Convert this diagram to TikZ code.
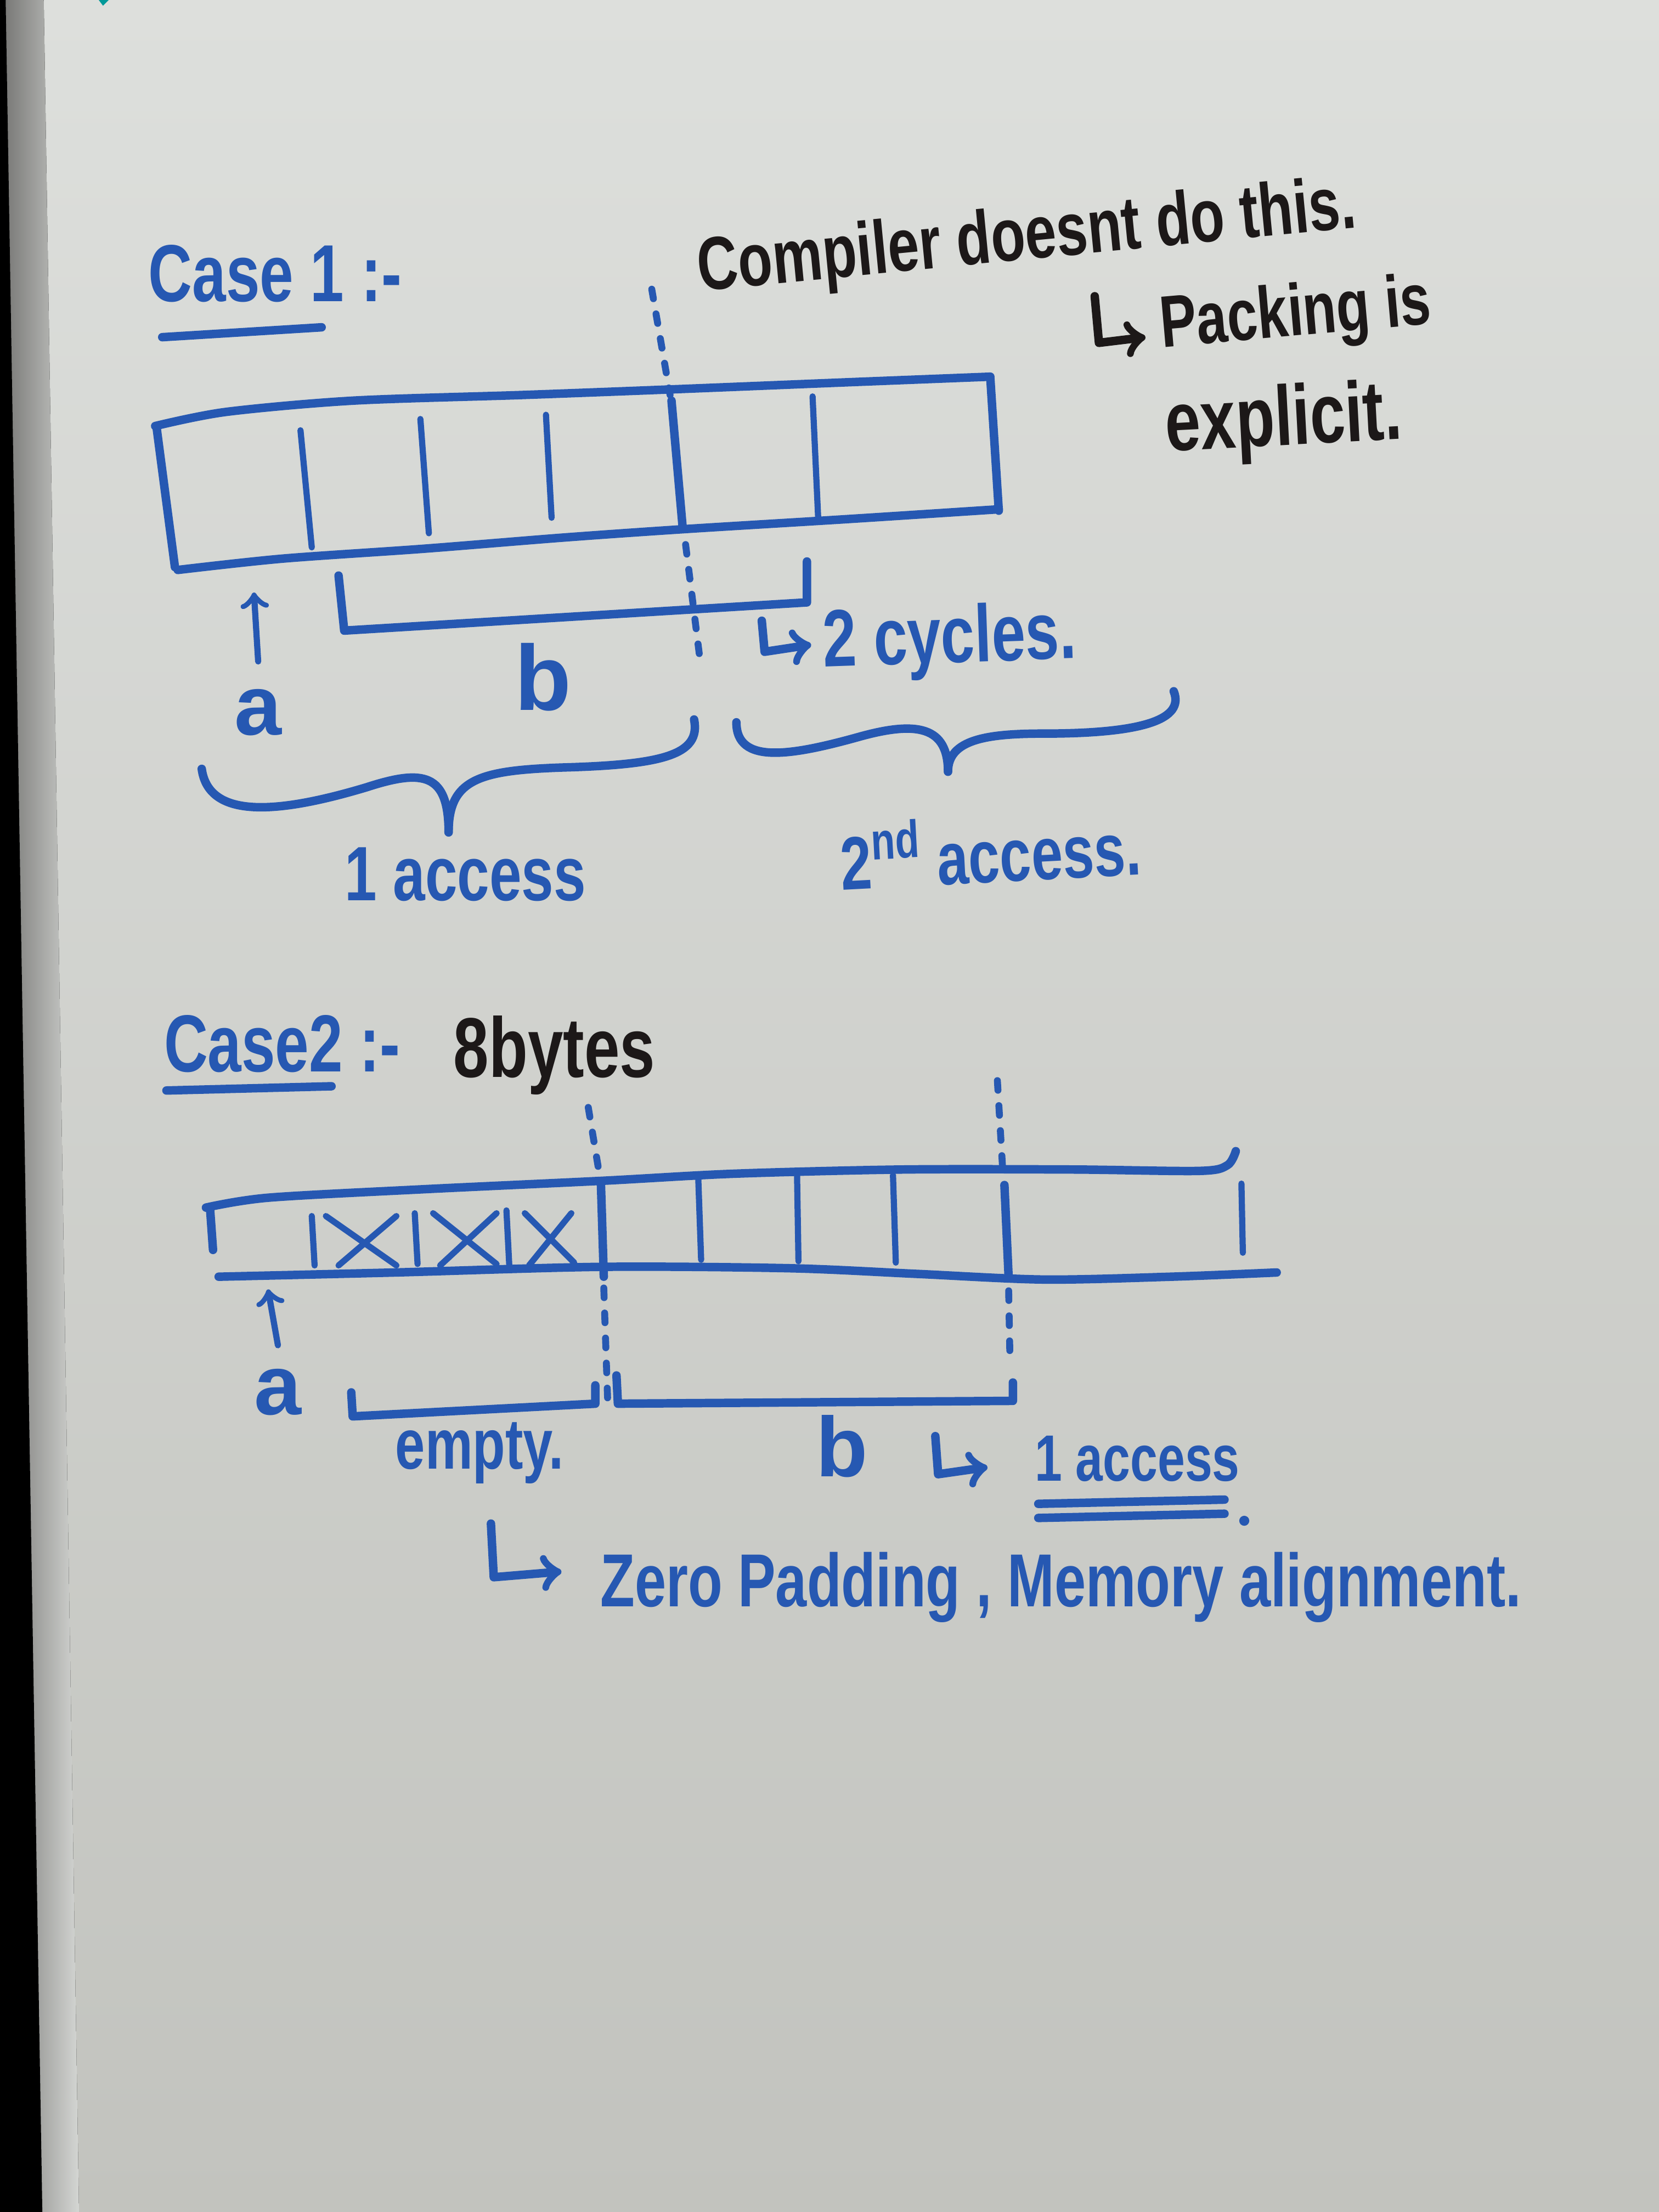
\documentclass[tikz,border=0pt]{standalone}
\usepackage{fontspec}
\setmainfont{Liberation Sans}

\definecolor{penblue}{RGB}{38,88,178}
\definecolor{penblack}{RGB}{28,24,24}
\definecolor{board}{RGB}{221,223,220}
\definecolor{boardlow}{RGB}{194,195,190}
\definecolor{frame}{RGB}{120,120,118}

% handwriting is narrow: squeeze the text sideways
\newcommand{\pen}[1]{\scalebox{0.75}[1]{#1}}

\tikzset{
  ink/.style = {draw=penblue, line width=2.2pt, line cap=round, line join=round},
  thin ink/.style = {ink, line width=1.6pt},
  black ink/.style = {ink, draw=penblack},
  dotted ink/.style = {draw=penblue, line width=1.8pt, line cap=round, dash pattern=on 2.5pt off 4pt},
  bluetext/.style = {text=penblue, inner sep=0pt, font=\fontsize{#1}{#1}\selectfont\bfseries},
  blacktext/.style = {text=penblack, inner sep=0pt, font=\fontsize{#1}{#1}\selectfont\bfseries}
}

\begin{document}
\begin{tikzpicture}[x=0.012857cm, y=-0.012857cm]
  % the board and its frame
  \fill[top color=board, bottom color=boardlow] (0,0) rectangle (1176,1568);
  \fill[left color=frame, right color=board!96!black] (3,0) -- (31,0) -- (56,1568) -- (29,1568) -- cycle;
  \fill[black] (0,0) -- (4,0) -- (30,1568) -- (0,1568) -- cycle;
  \fill[teal!80!cyan] (70,0) -- (77,0) -- (73,4) -- cycle;

  % ---- case 1 ----
  \node[bluetext=21pt] (case1) at (195,194) {\pen{Case 1 :-}};
  \draw[ink] (115,239) -- (228,232);

  \node[blacktext=19.5pt, rotate=5.5] (compiler) at (728,170) {\pen{Compiler doesnt do this.}};
  \coordinate (hookA) at (776,210);
  \draw[black ink, ->] (hookA) -- (779,243) -- (812,239);
  \node[blacktext=19pt, rotate=5, anchor=west] (packing) at (822,233) {\pen{Packing is}};
  \node[blacktext=22pt, rotate=3] (explicit) at (910,300) {\pen{explicit.}};

  % row of bytes
  \draw[ink] plot[smooth] coordinates {(110,302) (160,292) (250,284) (370,280) (476,276) (600,271) (702,267)};
  \draw[ink] plot[smooth] coordinates {(126,404) (200,396) (300,389) (400,381) (486,375) (600,368) (708,361)};
  \draw[ink] (111,303) -- (124,402);
  \draw[ink] (702,268) -- (708,362);
  \draw[thin ink] (213,305) -- (221,388);
  \draw[thin ink] (298,297) -- (304,378);
  \draw[thin ink] (387,294) -- (391,367);
  \draw[ink] (476,284) -- (484,375);
  \draw[thin ink] (576,281) -- (580,368);
  \draw[dotted ink] (462,205) -- (475,280);
  \draw[dotted ink] (486,386) -- (496,466);

  \node[bluetext=22pt] (a1) at (183,505) {a};
  \coordinate (a1top) at (180,420);
  \draw[thin ink, ->] ([yshift=7pt]a1.north) -- (a1top);

  \draw[ink] (240,408) -- (244,447) -- (572,427) -- (572,398);
  \node[bluetext=24pt] (b1) at (385,480) {b};

  \draw[ink, ->] (540,440) -- (542,462) -- (575,457);
  \node[bluetext=21pt, anchor=west, rotate=2] (cycles) at (583,458) {\pen{2 cycles.}};

  % braces
  \draw[ink] (143,545) .. controls (148,582) and (200,576) .. (260,558)
             .. controls (300,545) and (318,548) .. (318,590);
  \draw[ink] (318,590) .. controls (318,552) and (340,546) .. (400,544)
             .. controls (470,542) and (497,535) .. (492,510);
  \draw[ink] (522,512) .. controls (522,542) and (560,536) .. (610,522)
             .. controls (650,511) and (672,515) .. (672,547);
  \draw[ink] (672,547) .. controls (672,524) and (700,520) .. (740,520)
             .. controls (810,520) and (840,510) .. (832,490);
  \node[bluetext=20pt] (acc1) at (330,620) {\pen{1 access}};
  \node[bluetext=19.5pt, rotate=3] (acc2) at (702,602) {\pen{2\textsuperscript{nd} access.}};

  % ---- case 2 ----
  \node[bluetext=21pt] (case2) at (200,740) {\pen{Case2 :-}};
  \draw[ink] (118,773) -- (235,770);
  \node[blacktext=22pt] (bytes) at (393,748) {\pen{8bytes}};

  \draw[ink] plot[smooth] coordinates {(146,856) (190,849) (300,843) (427,837) (520,832) (640,829) (760,829) (850,830) (870,826) (876,816)};
  \draw[ink] plot[smooth] coordinates {(155,905) (280,902) (427,898) (560,899) (650,903) (740,907) (830,905) (905,902)};
  \draw[ink] (149,858) -- (151,886);
  \draw[ink] (426,840) -- (428,905);
  \draw[thin ink] (495,836) -- (497,893);
  \draw[thin ink] (565,833) -- (566,894);
  \draw[thin ink] (633,833) -- (635,895);
  \draw[ink] (712,840) -- (715,906);
  \draw[thin ink] (880,839) -- (881,888);
  % filled bytes
  \draw[thin ink] (221,862) -- (223,897);
  \draw[thin ink] (231,862) -- (281,897);
  \draw[thin ink] (281,862) -- (240,897);
  \draw[thin ink] (294,860) -- (296,896);
  \draw[thin ink] (307,860) -- (352,896);
  \draw[thin ink] (352,860) -- (312,897);
  \draw[thin ink] (359,858) -- (361,897);
  \draw[thin ink] (372,860) -- (407,895);
  \draw[thin ink] (405,860) -- (375,897);
  \draw[dotted ink] (417,785) -- (425,833);
  \draw[dotted ink] (428,913) -- (431,1000);
  \draw[dotted ink] (707,766) -- (711,833);
  \draw[dotted ink] (715,915) -- (716,968);

  \node[bluetext=22pt] (a2) at (197,987) {a};
  \coordinate (a2top) at (190,914);
  \draw[thin ink, ->] ([yshift=6pt]a2.north) -- (a2top);

  \draw[ink] (249,987) -- (250,1004) -- (422,995) -- (422,982);
  \draw[ink] (437,975) -- (438,995) -- (718,993) -- (718,980);
  \node[bluetext=18.5pt] (empty) at (340,1030) {\pen{empty.}};
  \node[bluetext=22pt] (b2) at (597,1025) {b};

  \draw[ink, ->] (663,1018) -- (665,1045) -- (700,1040);
  \node[bluetext=17pt, anchor=west] (oneacc) at (733,1034) {\pen{1 access}};
  \draw[ink] (736,1066) -- (868,1063);
  \draw[ink] (736,1076) -- (868,1073);
  \fill[penblue] (882,1078) circle (1.3pt);

  \draw[ink, ->] (348,1080) -- (350,1118) -- (398,1114);
  \node[bluetext=19.5pt, anchor=west] (padding) at (425,1125) {\pen{Zero Padding , Memory alignment.}};
\end{tikzpicture}
\end{document}
